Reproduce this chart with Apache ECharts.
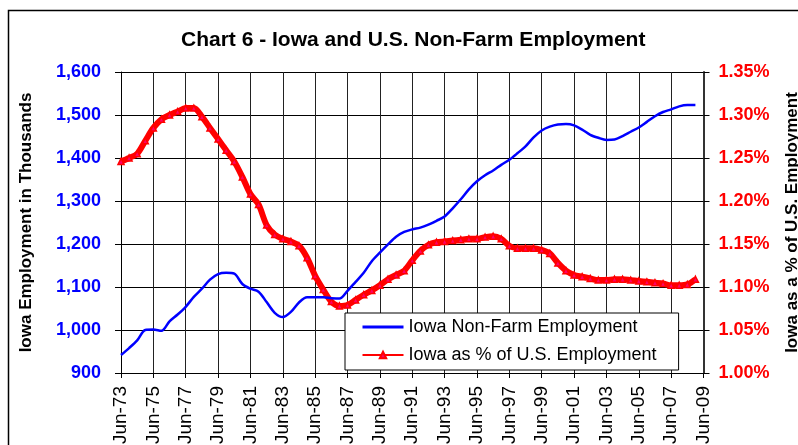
<!DOCTYPE html>
<html>
<head>
<meta charset="utf-8">
<script src="https://cdn.jsdelivr.net/npm/echarts@6/dist/echarts.min.js"></script>
<style>
  html, body { margin: 0; padding: 0; background: #fff; }
  #chart { width: 798px; height: 445px; }
</style>
</head>
<body>
<div id="chart"></div>
<script>
// Tick labels of the x axis, one every 24 months starting Jun-73
const xTickLabels = ['Jun-73', 'Jun-75', 'Jun-77', 'Jun-79', 'Jun-81', 'Jun-83', 'Jun-85', 'Jun-87', 'Jun-89',
  'Jun-91', 'Jun-93', 'Jun-95', 'Jun-97', 'Jun-99', 'Jun-01', 'Jun-03', 'Jun-05', 'Jun-07', 'Jun-09'];

// Iowa non-farm employment (thousands), read every 6 months from Jun-73 to Dec-08
const iowaJobs = [
  942, 958, 976, 1000, 1001, 998, 1020, 1036, 1054, 1077, 1096, 1117,
  1130, 1133, 1131, 1107, 1096, 1089, 1065, 1040, 1030, 1042, 1064, 1076,
  1076, 1076, 1074, 1073, 1091, 1112, 1133, 1160, 1180, 1199, 1217, 1228,
  1234, 1238, 1245, 1254, 1264, 1283, 1304, 1327, 1346, 1360, 1371, 1384,
  1396, 1411, 1427, 1448, 1464, 1473, 1478, 1479, 1476, 1466, 1454, 1447,
  1442, 1443, 1451, 1461, 1471, 1484, 1497, 1507, 1513, 1520, 1523, 1523
];

// Iowa as % of U.S. employment, same dates
const iowaShare = [
  1.246, 1.250, 1.255, 1.270, 1.285, 1.295, 1.300, 1.304, 1.308, 1.308, 1.298, 1.285,
  1.272, 1.259, 1.246, 1.228, 1.208, 1.196, 1.172, 1.161, 1.156, 1.153, 1.148, 1.134,
  1.113, 1.097, 1.083, 1.078, 1.079, 1.085, 1.091, 1.096, 1.102, 1.109, 1.114, 1.119,
  1.131, 1.142, 1.149, 1.152, 1.153, 1.154, 1.155, 1.156, 1.156, 1.158, 1.159, 1.156,
  1.148, 1.145, 1.145, 1.145, 1.143, 1.139, 1.128, 1.119, 1.114, 1.112, 1.110, 1.108,
  1.108, 1.109, 1.109, 1.108, 1.107, 1.106, 1.105, 1.104, 1.102, 1.102, 1.103, 1.109
];

const STEP = 6; // months between readings
const FONT = 'Arial, "Liberation Sans", sans-serif';

let chart = echarts.init(document.getElementById('chart'), null, { renderer: 'canvas' });

let option = {
  animation: false,
  backgroundColor: '#fff',
  textStyle: { fontFamily: FONT },
  graphic: [{
    // outer chart border, cut off at right and bottom like the original
    type: 'rect',
    shape: { x: 8.5, y: 10.5, width: 900, height: 600 },
    style: { fill: 'none', stroke: '#000', lineWidth: 1.5 },
    silent: true
  }],
  title: {
    text: 'Chart 6 - Iowa and U.S. Non-Farm Employment',
    left: 176,
    top: 25,
    textStyle: { fontFamily: FONT, fontSize: 21, fontWeight: 'bold', color: '#000' }
  },
  legend: {
    orient: 'vertical',
    left: 345,
    top: 313,
    backgroundColor: '#fff',
    borderColor: '#000',
    borderWidth: 1,
    borderRadius: 0,
    padding: [5, 22, 6, 16],
    itemGap: 10,
    itemWidth: 41,
    itemHeight: 8,
    textStyle: { fontFamily: FONT, fontSize: 18, color: '#000' },
    data: [
      { name: 'Iowa Non-Farm Employment', itemStyle: { opacity: 0 }, lineStyle: { width: 3 } },
      { name: 'Iowa as % of U.S. Employment', lineStyle: { width: 2 } }
    ]
  },
  grid: {
    left: 121,
    right: 94.5,
    top: 72,
    bottom: 72,
    containLabel: false,
    outerBoundsMode: 'none'
  },
  xAxis: {
    type: 'value',
    min: 0,
    max: (xTickLabels.length - 1) * 24,
    interval: 24,
    axisLine: { show: true, lineStyle: { color: '#000', width: 1 } },
    axisTick: { show: true, inside: false, length: 5, lineStyle: { color: '#000' } },
    axisLabel: {
      rotate: 90,
      margin: 13,
      fontFamily: FONT,
      fontSize: 19,
      color: '#000',
      formatter: function (value) {
        return xTickLabels[Math.round(value / 24)];
      }
    },
    splitLine: { show: true, lineStyle: { color: '#222', width: 1 } }
  },
  yAxis: [{
    type: 'value',
    min: 900,
    max: 1600,
    interval: 100,
    position: 'left',
    name: 'Iowa Employment in Thousands',
    nameLocation: 'middle',
    nameRotate: 90,
    nameGap: 86,
    nameTextStyle: { fontFamily: FONT, fontSize: 17, fontWeight: 'bold', color: '#000' },
    axisLine: { show: true, lineStyle: { color: '#000', width: 1 } },
    axisTick: { show: true, inside: false, length: 6, lineStyle: { color: '#000' } },
    axisLabel: {
      margin: 20,
      fontFamily: FONT,
      fontSize: 18,
      fontWeight: 'bold',
      color: '#0000ff',
      formatter: function (value) {
        return value.toLocaleString('en-US');
      }
    },
    splitLine: { show: true, lineStyle: { color: '#000', width: 1 } }
  }, {
    type: 'value',
    min: 1.00,
    max: 1.35,
    interval: 0.05,
    position: 'right',
    name: 'Iowa as a % of U.S. Employment',
    nameLocation: 'middle',
    nameRotate: 90,
    nameGap: 80,
    nameTextStyle: { fontFamily: FONT, fontSize: 17, fontWeight: 'bold', color: '#000' },
    axisLine: { show: true, lineStyle: { color: '#333', width: 2 } },
    axisTick: { show: true, inside: false, length: 6, lineStyle: { color: '#000' } },
    axisLabel: {
      margin: 15,
      fontFamily: FONT,
      fontSize: 18,
      fontWeight: 'bold',
      color: '#ff0000',
      formatter: function (value) {
        return value.toFixed(2) + '%';
      }
    },
    splitLine: { show: false }
  }],
  series: [{
    name: 'Iowa Non-Farm Employment',
    type: 'line',
    yAxisIndex: 0,
    data: iowaJobs.map((v, i) => [i * STEP, v]),
    smooth: 0.3,
    symbol: 'none',
    lineStyle: { color: '#0000ff', width: 2.5 },
    itemStyle: { color: '#0000ff' },
    z: 3
  }, {
    name: 'Iowa as % of U.S. Employment',
    type: 'line',
    yAxisIndex: 1,
    data: iowaShare.map((v, i) => [i * STEP, v]),
    smooth: 0.3,
    symbol: 'triangle',
    symbolSize: 6,
    showSymbol: true,
    lineStyle: { color: '#ff0000', width: 6 },
    itemStyle: { color: '#ff0066', borderColor: '#ff0000', borderWidth: 1.5 },
    z: 2
  }]
};

chart.setOption(option);
</script>
</body>
</html>
